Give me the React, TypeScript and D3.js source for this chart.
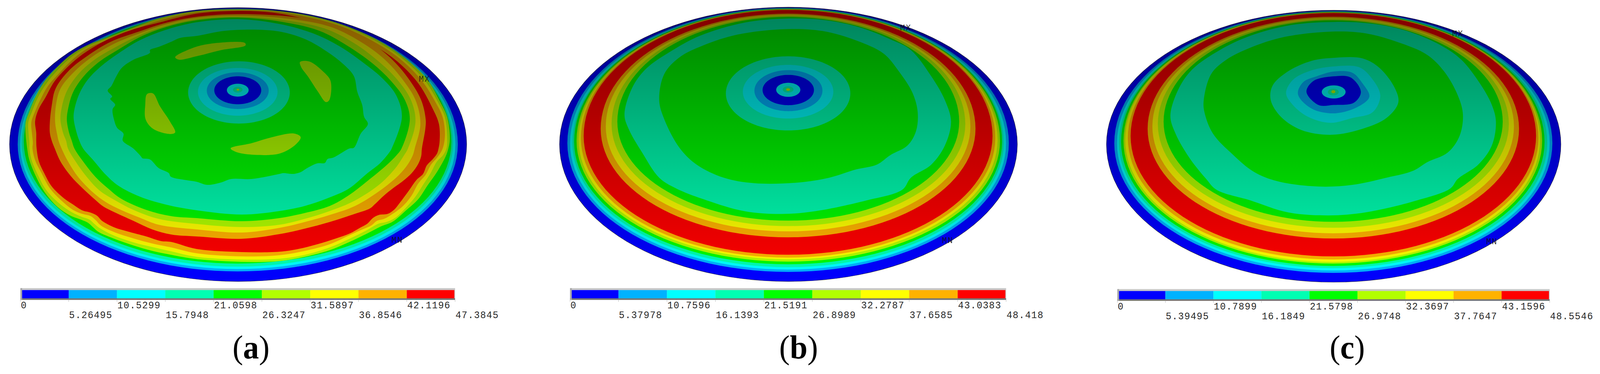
import React from "react";
import * as d3 from "d3";

const WIDTH = 4236;
const HEIGHT = 957;
// The browser window is limited to 4096 wide, so the 4236-unit drawing is fitted into it.
const FRAME_WIDTH = 4096;
// Readings are taken on a 1568 x 1568 grid laid over each 1412 x 957 panel.
const READ = 1568;

const bandColors = ["#0000ff", "#00b2ff", "#00ffff", "#00ffb2", "#00ff00", "#b2ff00", "#ffff00", "#ffb200", "#ff0000"];
const ringBandIndex = [0, 1, 2, 3, 4, 5, 6, 7, 8, 7, 6, 5, 4, 3];

const labelsA = ["0", "5.26495", "10.5299", "15.7948", "21.0598", "26.3247", "31.5897", "36.8546", "42.1196", "47.3845"];
const labelsB = ["0", "5.37978", "10.7596", "16.1393", "21.5191", "26.8989", "32.2787", "37.6585", "43.0383", "48.418"];
const labelsC = ["0", "5.39495", "10.7899", "16.1849", "21.5798", "26.9748", "32.3697", "37.7647", "43.1596", "48.5546"];

type Pt = [number, number];

// Smooth contour boundaries, rim to centre
const topA = [32, 36, 38, 39, 41];
const bottomA = [1180, 1138, 1128, 1118, 1105];
const leftA = [28, 52, 59, 64, 70];
const rightA = [1372, 1346, 1339, 1332, 1327];
const midA = [605, 605, 605, 600, 595];

const topB = [30, 33, 35, 36, 37, 38, 39, 40, 42, 57, 62, 66, 71];
const bottomB = [1180, 1140, 1130, 1120, 1108, 1097, 1087, 1080, 1068, 995, 970, 948, 925];
const leftB = [77, 100, 108, 115, 120, 127, 133, 140, 148, 198, 213, 230, 247];
const rightB = [1423, 1398, 1390, 1383, 1378, 1372, 1365, 1358, 1350, 1300, 1285, 1270, 1252];
const midB = [605, 600, 600, 600, 595, 590, 585, 580, 570, 540, 530, 520, 510];

const topC = [43, 46, 48, 49, 50, 51, 52, 53, 55, 70, 75, 80, 85];
const bottomC = [1183, 1144, 1134, 1124, 1115, 1105, 1098, 1088, 1075, 1000, 978, 955, 930];
const leftC = [117, 140, 148, 154, 160, 167, 172, 180, 188, 238, 252, 268, 285];
const rightC = [1453, 1428, 1420, 1413, 1405, 1398, 1392, 1387, 1380, 1330, 1315, 1300, 1282];
const midC = [605, 600, 600, 600, 595, 590, 585, 580, 570, 540, 530, 520, 510];

// Irregular boundaries of panel (a), read in picture pixels, outer to inner (bands 5 to 13)
const contour5A: Pt[] = [[520, 28], [420, 47], [353, 70], [280, 97], [228, 117], [185, 142], [145, 178], [115, 212], [93, 250], [78, 285], [68, 313], [68, 345], [70, 365], [72, 380], [77, 407], [93, 447], [117, 490], [153, 530], [187, 552], [217, 563], [233, 570], [247, 582], [260, 593], [300, 610], [353, 628], [403, 642], [453, 652], [520, 663], [640, 670], [740, 668], [807, 657], [873, 640], [923, 620], [973, 597], [1007, 580], [1040, 567], [1073, 540], [1107, 510], [1133, 473], [1157, 440], [1180, 400], [1187, 380], [1191, 355], [1184, 300], [1165, 260], [1130, 202], [1070, 147], [1003, 104], [910, 64], [820, 40], [726, 27], [630, 24]];
const contour6A: Pt[] = [[520, 30], [420, 50], [353, 73], [280, 100], [230, 120], [190, 145], [150, 182], [122, 215], [100, 250], [85, 285], [75, 313], [76, 345], [78, 365], [78, 380], [83, 407], [100, 447], [123, 487], [160, 523], [190, 543], [217, 555], [237, 562], [250, 573], [263, 583], [300, 602], [353, 620], [403, 632], [453, 643], [520, 657], [640, 664], [740, 662], [807, 652], [873, 633], [923, 612], [973, 588], [987, 580], [1003, 572], [1023, 568], [1047, 557], [1073, 533], [1100, 503], [1120, 473], [1140, 443], [1157, 413], [1173, 397], [1182, 380], [1184, 355], [1178, 300], [1160, 262], [1124, 205], [1066, 150], [1000, 107], [908, 66], [818, 42], [724, 28], [630, 25]];
const contour7A: Pt[] = [[520, 32], [420, 53], [353, 76], [280, 104], [232, 124], [195, 150], [157, 187], [127, 220], [108, 253], [93, 285], [83, 313], [85, 345], [87, 365], [86, 380], [93, 410], [110, 443], [133, 483], [167, 517], [193, 537], [217, 547], [240, 553], [253, 563], [267, 577], [300, 593], [353, 610], [403, 623], [453, 633], [520, 648], [640, 656], [740, 653], [807, 642], [873, 625], [923, 603], [957, 588], [983, 577], [998, 565], [1017, 560], [1040, 547], [1067, 527], [1090, 500], [1107, 470], [1127, 447], [1140, 423], [1160, 400], [1172, 380], [1178, 345], [1172, 300], [1155, 265], [1118, 208], [1062, 153], [996, 110], [905, 68], [815, 44], [722, 29], [630, 26]];
const contour8A: Pt[] = [[520, 35], [420, 58], [353, 75], [287, 100], [237, 127], [200, 153], [167, 183], [143, 210], [120, 250], [102, 280], [93, 310], [96, 340], [96, 360], [97, 380], [103, 413], [117, 443], [137, 477], [170, 508], [193, 523], [217, 538], [240, 544], [257, 552], [270, 565], [303, 582], [337, 592], [387, 605], [427, 617], [453, 619], [520, 637], [640, 645], [740, 644], [790, 637], [840, 625], [890, 610], [927, 597], [953, 583], [973, 572], [987, 558], [1003, 550], [1027, 547], [1043, 537], [1060, 517], [1083, 487], [1103, 460], [1120, 445], [1130, 423], [1145, 408], [1157, 393], [1161, 380], [1164, 360], [1162, 317], [1144, 275], [1108, 214], [1054, 159], [990, 116], [900, 73], [810, 49], [720, 32], [630, 28]];
const contour9A: Pt[] = [[520, 43], [437, 59], [370, 80], [293, 107], [233, 142], [183, 180], [147, 227], [137, 270], [132, 313], [132, 340], [137, 360], [145, 380], [160, 413], [187, 450], [220, 483], [253, 512], [273, 528], [303, 543], [353, 565], [403, 587], [453, 600], [520, 605], [640, 611], [740, 599], [807, 585], [873, 568], [940, 547], [980, 533], [993, 522], [1017, 500], [1040, 482], [1067, 463], [1090, 443], [1107, 420], [1115, 400], [1117, 380], [1126, 330], [1127, 305], [1115, 256], [1079, 198], [1028, 143], [964, 98], [887, 64], [774, 43], [630, 36]];
const contour10A: Pt[] = [[520, 46], [437, 63], [370, 85], [300, 113], [240, 148], [193, 187], [160, 227], [148, 270], [146, 313], [152, 347], [155, 360], [163, 380], [180, 413], [207, 453], [247, 493], [280, 517], [320, 537], [370, 557], [420, 575], [520, 587], [640, 595], [740, 583], [807, 568], [873, 550], [940, 527], [1007, 487], [1057, 447], [1080, 420], [1093, 397], [1098, 380], [1113, 317], [1100, 256], [1064, 201], [1016, 150], [950, 104], [873, 68], [765, 48], [630, 40]];
const contour11A: Pt[] = [[520, 49], [437, 67], [370, 90], [307, 120], [250, 153], [207, 190], [177, 233], [163, 277], [160, 307], [168, 343], [175, 360], [180, 380], [200, 413], [230, 453], [263, 487], [300, 510], [353, 537], [420, 560], [520, 573], [640, 581], [740, 575], [807, 560], [873, 540], [940, 513], [1007, 470], [1047, 430], [1068, 400], [1080, 380], [1100, 311], [1088, 256], [1052, 204], [1001, 156], [937, 110], [860, 73], [756, 52], [630, 43]];
const contour12A: Pt[] = [[520, 52], [437, 70], [370, 95], [313, 127], [260, 160], [220, 197], [193, 237], [180, 280], [177, 307], [183, 340], [190, 360], [197, 380], [220, 413], [253, 453], [287, 483], [320, 508], [387, 537], [453, 553], [520, 558], [640, 566], [740, 558], [807, 545], [873, 527], [923, 500], [973, 463], [1023, 423], [1050, 397], [1063, 380], [1085, 305], [1072, 256], [1036, 208], [986, 162], [918, 116], [846, 79], [747, 56], [630, 45]];
const contour13A: Pt[] = [[520, 57], [437, 77], [370, 103], [313, 137], [267, 170], [233, 203], [210, 240], [197, 280], [195, 303], [203, 340], [210, 360], [220, 380], [247, 410], [280, 447], [313, 475], [370, 503], [437, 523], [520, 538], [640, 549], [740, 540], [807, 527], [873, 505], [923, 483], [973, 443], [1007, 417], [1033, 387], [1037, 380], [1064, 299], [1049, 244], [1013, 201], [968, 165], [900, 119], [828, 85], [738, 61], [630, 49]];
const contoursA = [contour5A, contour6A, contour7A, contour8A, contour9A, contour10A, contour11A, contour12A, contour13A];
const contourBandsA = [5, 6, 7, 8, 7, 6, 5, 4, 3];
const plateEdgeA: Pt[] = [[520, 92], [477, 97], [453, 107], [420, 120], [397, 128], [397, 135], [353, 153], [323, 173], [307, 197], [295, 220], [285, 232], [297, 247], [292, 253], [305, 268], [298, 280], [303, 310], [310, 327], [327, 342], [325, 360], [353, 380], [373, 400], [377, 405], [397, 408], [420, 430], [447, 443], [452, 452], [487, 460], [520, 465], [549, 473], [585, 467], [612, 458], [666, 458], [740, 445], [750, 443], [777, 445], [797, 440], [810, 432], [840, 418], [860, 417], [867, 407], [883, 403], [925, 380], [937, 378], [955, 342], [974, 317], [964, 299], [959, 269], [946, 235], [937, 195], [910, 165], [864, 131], [810, 101], [747, 82], [684, 76], [594, 79]];

const tealEdgeB: Pt[] = [[745, 78], [860, 85], [960, 115], [1050, 165], [1110, 210], [1170, 320], [1210, 420], [1228, 510], [1210, 610], [1170, 690], [1110, 745], [1085, 795], [980, 840], [830, 885], [730, 897], [620, 885], [510, 840], [420, 790], [370, 745], [320, 640], [280, 540], [268, 480], [290, 370], [330, 290], [410, 210], [490, 150], [620, 95]];
const tealEdgeC: Pt[] = [[790, 92], [900, 100], [1000, 130], [1100, 190], [1160, 250], [1215, 350], [1250, 440], [1262, 510], [1250, 610], [1210, 690], [1150, 750], [1128, 790], [1030, 840], [880, 890], [770, 903], [650, 890], [540, 840], [440, 795], [410, 750], [360, 660], [320, 560], [305, 485], [330, 370], [370, 290], [450, 210], [540, 150], [660, 105]];
const plateB: Pt[] = [[745, 122], [850, 130], [950, 170], [1030, 225], [1075, 300], [1115, 390], [1130, 470], [1125, 550], [1100, 610], [1050, 650], [1010, 690], [950, 710], [870, 745], [780, 765], [650, 768], [560, 745], [480, 690], [430, 620], [385, 500], [370, 420], [385, 310], [430, 240], [500, 190], [600, 145]];
const plateC: Pt[] = [[790, 132], [880, 140], [970, 175], [1060, 230], [1110, 300], [1150, 400], [1165, 480], [1155, 570], [1120, 640], [1060, 680], [1020, 715], [940, 745], [840, 775], [740, 782], [620, 760], [550, 720], [490, 650], [430, 560], [405, 470], [403, 420], [425, 310], [470, 250], [540, 200], [640, 155]];

const patchesA: Pt[][] = [
  [[515, 240], [560, 205], [610, 185], [720, 180], [722, 190], [650, 210], [580, 235], [525, 250]],
  [[882, 260], [910, 258], [950, 300], [972, 340], [968, 420], [958, 428], [935, 385], [905, 320], [885, 280]],
  [[432, 395], [450, 392], [470, 445], [500, 510], [515, 555], [500, 562], [450, 540], [428, 500], [427, 440]],
  [[678, 622], [740, 600], [800, 575], [865, 560], [884, 575], [870, 605], [830, 640], [790, 650], [700, 640]],
];

// Centre target: [left, right, top, bottom] of each ring, with its colour band
const hubBands = [3, 2, 1, 0, 2, 3, 5];
const hubA = [[553, 852, 257, 518], [582, 816, 285, 485], [608, 790, 303, 457], [630, 768, 320, 437], [667, 731, 351, 405], [685, 713, 364, 388], [695, 704, 372, 380]];
const hubB = [[566, 932, 236, 547], [616, 882, 272, 497], [650, 850, 294, 466], [674, 825, 314, 441], [714, 785, 347, 406], [733, 765, 362, 388], [743, 755, 370, 381]];
const hubPolysC: Pt[][] = [
  [[790, 242], [870, 245], [920, 285], [965, 370], [975, 430], [940, 495], [870, 540], [780, 565], [690, 545], [630, 490], [600, 420], [605, 360], [650, 300], [720, 255]],
  [[790, 278], [860, 282], [895, 325], [922, 400], [900, 470], [840, 495], [775, 515], [710, 490], [665, 440], [645, 390], [665, 335], [720, 295]],
  [[785, 300], [840, 305], [870, 350], [890, 405], [860, 445], [790, 475], [720, 455], [680, 395], [695, 345], [735, 320]],
  [[785, 320], [835, 325], [865, 385], [845, 430], [785, 440], [740, 440], [705, 385], [725, 340]],
];
const hubC = [[750, 820, 358, 413], [768, 800, 372, 400], [778, 790, 378, 391]];

const panels = [
  { id: "a", offset: 0, top: topA, bottom: bottomA, left: leftA, right: rightA, mid: midA, contours: contoursA, contourBands: contourBandsA, plateEdge: plateEdgeA, tealEdge: null, plate: null, patches: patchesA, hub: hubA, hubPolys: [], labels: labelsA, legend: [60, 1338, 1208], caption: 738, mx: [1248, 330], mn: [1168, 1005], name: "a" },
  { id: "b", offset: 1412, top: topB, bottom: bottomB, left: leftB, right: rightB, mid: midB, contours: [], contourBands: [], plateEdge: null, tealEdge: tealEdgeB, plate: plateB, patches: [], hub: hubB, hubPolys: [], labels: labelsB, legend: [108, 1390, 1208], caption: 780, mx: [1095, 115], mn: [1218, 1006], name: "b" },
  { id: "c", offset: 2824, top: topC, bottom: bottomC, left: leftC, right: rightC, mid: midC, contours: [], contourBands: [], plateEdge: null, tealEdge: tealEdgeC, plate: plateC, patches: [], hub: hubC, hubPolys: hubPolysC, labels: labelsC, legend: [149, 1420, 1212], caption: 825, mx: [1150, 139], mn: [1250, 1011], name: "c" },
];

const turn = d3.range(0, 120).map((i) => (i / 120) * 2 * Math.PI);

function Panel({ p }: { p: (typeof panels)[number] }) {
  const sx = d3.scaleLinear().domain([0, READ]).range([p.offset, p.offset + 1412]);
  const sy = d3.scaleLinear().domain([0, READ]).range([0, HEIGHT]);
  const closed = d3.line<Pt>().x((d) => sx(d[0])).y((d) => sy(d[1])).curve(d3.curveLinearClosed);
  const smooth = d3.line<Pt>().x((d) => sx(d[0])).y((d) => sy(d[1])).curve(d3.curveCatmullRomClosed.alpha(0.5));
  const pixelLine = d3.line<Pt>().x((d) => d[0] + p.offset).y((d) => d[1]).curve(d3.curveCatmullRomClosed.alpha(0.5));

  const ring = (t: number, r: number, b: number, l: number, m: number): Pt[] => {
    const cx = (l + r) / 2;
    const rx = (r - l) / 2;
    return turn.map((a) => {
      const s = Math.sin(a);
      return [cx + rx * Math.cos(a), m + (s < 0 ? m - t : b - m) * s] as Pt;
    });
  };
  const rim = ring(p.top[0], p.right[0], p.bottom[0], p.left[0], p.mid[0]);
  const [barL, barR, barT] = p.legend;
  const lx = d3.scaleLinear().domain([0, 9]).range([sx(barL), sx(barR)]);
  const barTop = sy(barT);
  const hubRings = p.hub.map(([l, r, t, b]) => ring(t, r, b, l, (t + b) / 2));
  const hubStart = p.hubPolys.length;

  return (
    <g>
      <clipPath id={`rim-${p.id}`}>
        <path d={closed(rim) ?? ""} />
      </clipPath>
      {p.top.map((_, i) => (
        <path key={i} d={closed(ring(p.top[i], p.right[i], p.bottom[i], p.left[i], p.mid[i])) ?? ""} fill={bandColors[ringBandIndex[i]]} />
      ))}
      {p.contours.map((q, i) => (
        <path key={i} d={pixelLine(q) ?? ""} fill={bandColors[p.contourBands[i]]} />
      ))}
      {p.plateEdge && <path d={pixelLine(p.plateEdge) ?? ""} fill={bandColors[4]} />}
      {p.tealEdge && <path d={smooth(p.tealEdge) ?? ""} fill={bandColors[3]} />}
      {p.plate && <path d={smooth(p.plate) ?? ""} fill={bandColors[4]} />}
      {p.patches.map((q, i) => (
        <path key={i} d={smooth(q) ?? ""} fill={bandColors[5]} />
      ))}
      {p.hubPolys.map((q, i) => (
        <path key={i} d={smooth(q) ?? ""} fill={bandColors[hubBands[i]]} />
      ))}
      {hubRings.map((q, i) => (
        <path key={i} d={closed(q) ?? ""} fill={bandColors[hubBands[i + hubStart]]} />
      ))}
      <rect x={p.offset} y={0} width={1412} height={HEIGHT} fill="url(#dimming)" clipPath={`url(#rim-${p.id})`} />
      <path d={closed(rim) ?? ""} fill="none" stroke="#111" strokeWidth={1.2} strokeOpacity={0.7} />

      <text x={sx(p.mx[0])} y={sy(p.mx[1]) + 8} textAnchor="middle" fontFamily="'Liberation Mono', monospace" fontSize={22} fill="#111" opacity={0.8} letterSpacing={2}>MX</text>
      <text x={sx(p.mn[0])} y={sy(p.mn[1]) + 8} textAnchor="middle" fontFamily="'Liberation Mono', monospace" fontSize={22} fill="#111" opacity={0.8} letterSpacing={2}>MN</text>

      <rect x={lx(0)} y={barTop} width={lx(9) - lx(0)} height={30} fill="#c8c8c8" />
      <rect x={lx(0)} y={barTop + 26} width={lx(9) - lx(0)} height={4} fill="#707070" />
      <rect x={lx(0)} y={barTop} width={4.5} height={30} fill="#a8a8a8" />
      {bandColors.map((c, i) => (
        <rect key={i} x={i === 0 ? lx(0) + 4.5 : lx(i)} y={barTop + 5} width={lx(i + 1) - lx(i) - (i === 0 ? 4.5 : i === 8 ? 2 : 0)} height={21} fill={c} />
      ))}
      {p.labels.map((t, i) => (
        <g key={i}>
          <line x1={lx(i)} x2={lx(i)} y1={barTop + 30} y2={barTop + 35} stroke="#bbb" strokeWidth={1} />
          <text x={lx(i) + 1} y={barTop + (i % 2 ? 77 : 52)} fontFamily="'Liberation Mono', monospace" fontSize={25} letterSpacing={1.4} fill="#2a2a2a">{t}</text>
        </g>
      ))}
      <text x={sx(p.caption)} y={917} textAnchor="middle" fontFamily="'Liberation Serif', serif" fontSize={84} fill="#000">
        (<tspan fontWeight="bold">{p.name}</tspan>)
      </text>
    </g>
  );
}

export default function App() {
  return (
    <svg width={FRAME_WIDTH} height={HEIGHT} viewBox={`0 0 ${WIDTH} ${HEIGHT}`} preserveAspectRatio="none" style={{ position: "absolute", left: 0, top: 0, display: "block", background: "#fff" }}>
      <defs>
        <linearGradient id="dimming" gradientUnits="userSpaceOnUse" x1={0} x2={0} y1={18} y2={722}>
          <stop offset={0} stopColor="#000" stopOpacity={0.5} />
          <stop offset={1} stopColor="#000" stopOpacity={0} />
        </linearGradient>
      </defs>
      {panels.map((p) => (
        <Panel key={p.id} p={p} />
      ))}
    </svg>
  );
}
